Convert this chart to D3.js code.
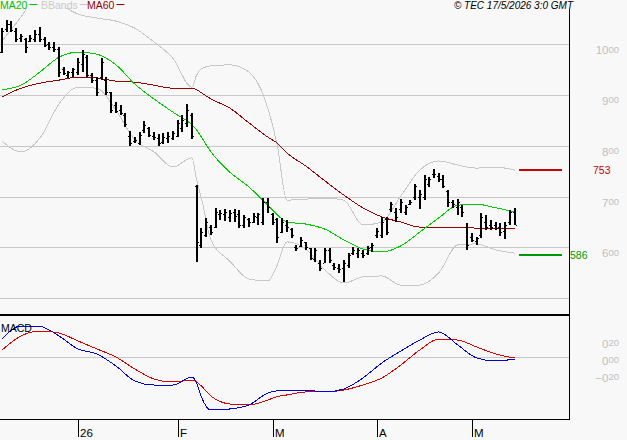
<!DOCTYPE html>
<html>
<head>
<meta charset="utf-8">
<script src="https://cdn.jsdelivr.net/npm/d3@7"></script>
<style>
  body { margin: 0; background: #f8f8f8; }
  svg { display: block; font-family: "Liberation Sans", Arial, sans-serif; }
</style>
</head>
<body>
<svg id="chart" width="627" height="440"></svg>
<script>
// daily bars, index 0 = mid December 2025, index 108 = 15 May 2026
const barOpen = [985,1030,1040,1025,1012,1010,1006,1010,1020,1010,
  1000,995,990,950,940,945,945,960,975,940,
  930,935,930,905,880,870,860,820,810,805,
  830,835,820,815,808,815,815,820,835,845,
  860,720,605,625,640,640,665,665,660,670,
  665,645,655,650,660,650,690,665,655,630,
  645,636,600,603,610,598,578,570,570,595,
  565,560,560,565,590,590,590,590,600,625,
  625,655,675,670,675,670,685,700,700,700,
  725,745,740,735,710,690,680,680,640,620,
  612,625,650,645,645,640,632,650,670];
const barHigh = [1031,1047,1045,1031,1020,1012,1018,1028,1033,1014,
  1004,1004,994,955,947,953,972,988,978,943,
  935,972,935,906,886,880,864,829,817,827,
  849,837,827,823,825,827,829,851,860,882,
  864,723,638,658,644,678,674,676,674,676,
  674,664,658,668,668,697,697,668,658,658,
  654,638,605,621,611,599,599,575,599,599,
  569,567,575,589,601,599,595,603,609,638,
  660,660,689,678,695,683,693,725,713,742,
  739,754,746,742,713,693,695,683,648,628,
  621,668,664,654,650,648,650,674,678];
const barLow = [982,1024,1024,1004,1004,982,1004,1004,1004,994,
  988,984,935,939,933,935,939,945,935,923,
  898,929,900,864,864,860,837,799,805,801,
  825,817,811,799,803,805,811,817,827,837,
  813,571,599,621,624,638,654,652,650,650,
  638,638,640,648,644,644,668,644,609,628,
  630,619,593,601,595,575,571,554,569,569,
  556,550,532,560,585,579,579,585,591,619,
  619,624,670,650,668,664,683,693,676,693,
  719,737,729,717,680,678,664,660,595,611,
  605,619,634,634,634,623,617,644,644];
const barClose = [1025,1040,1028,1010,1015,995,1012,1020,1010,998,
  995,990,945,942,945,950,965,980,940,930,
  905,965,905,870,868,865,842,805,812,822,
  840,822,818,805,818,820,825,845,850,870,
  820,610,630,650,630,670,668,670,668,662,
  645,660,650,662,665,690,680,650,620,650,
  640,625,598,615,600,580,595,560,595,575,
  562,558,570,585,595,595,585,598,605,632,
  650,630,685,660,690,680,690,720,705,735,
  735,745,735,720,690,685,690,670,605,615,
  618,660,640,640,638,630,645,670,645];

// indicator lines, read at these bar indices
const lineIdx = [0,4,8,12,16,20,24,28,32,36,40,41,42,44,48,52,56,58,60,64,68,72,76,80,84,88,92,96,100,104,108];
const ma20 = [910,919,945,974,984,980,959,921,892,866,841,831,817,788,748,719,683,664,650,646,636,615,597,591,603,630,658,683,685,678,670];
const ma60 = [896,913,923,929,935,933,927,925,919,913,913,910,904,892,874,845,817,805,786,760,731,703,678,660,650,640,640,640,638,638,638];
const bbUpper = [1006,1053,1102,1079,1059,1051,1045,1031,1004,972,915,939,951,957,959,945,874,800,693,695,697,693,644,650,701,752,770,762,756,758,752];
const bbLower = [809,788,815,882,915,913,870,811,788,758,776,733,697,615,573,538,534,566,611,597,556,530,542,544,526,526,550,605,607,595,589];
const macdLine = [0.208,0.361,0.355,0.244,0.091,0.032,-0.109,-0.286,-0.333,-0.333,-0.239,-0.31,-0.474,-0.627,-0.615,-0.568,-0.427,-0.40,-0.392,-0.392,-0.415,-0.38,-0.251,-0.074,0.067,0.196,0.291,0.138,-0.015,-0.05,-0.027];
const macdSignal = [0.079,0.244,0.302,0.279,0.185,0.091,-0.004,-0.145,-0.262,-0.298,-0.274,-0.298,-0.345,-0.462,-0.556,-0.568,-0.509,-0.47,-0.45,-0.415,-0.415,-0.392,-0.333,-0.251,-0.098,0.079,0.208,0.196,0.114,0.032,-0.015];

const priceTicks = [1000,900,800,700,600];
const priceGrid = [1000,900,800,700,600,500];
const macdTicks = [0.20,0.00,-0.20];
const monthTicks = [{i:16,label:"26"},{i:37,label:"F"},{i:57,label:"M"},{i:79,label:"A"},{i:99,label:"M"}];
const resistance = 753, support = 586;

const svg = d3.select("#chart");
const right = 569;

const x = d3.scaleLinear().domain([0,108]).range([2, 514.7]);
const yP = d3.scaleLinear().domain([500,1000]).range([298.3, 44]);
const yM = d3.scaleLinear().domain([-0.2,0.2]).range([373.7, 339.7]);

svg.append("defs").append("clipPath").attr("id","pclip")
  .append("rect").attr("x",0).attr("y",8).attr("width",right).attr("height",306);

// grid
svg.append("g").selectAll("line").data(priceGrid).enter().append("line")
  .attr("x1",0).attr("x2",right)
  .attr("y1",d=>Math.round(yP(d))+0.5).attr("y2",d=>Math.round(yP(d))+0.5)
  .attr("stroke","#c8c8c8");
svg.append("line").attr("x1",0).attr("x2",right)
  .attr("y1",Math.round(yM(0))+0.5).attr("y2",Math.round(yM(0))+0.5)
  .attr("stroke","#c8c8c8");

const plot = svg.append("g").attr("clip-path","url(#pclip)");

function priceLine(vals) {
  return d3.line().x((d,k)=>x(lineIdx[k])).y(d=>yP(d)).curve(d3.curveMonotoneX)(vals);
}
plot.append("path").attr("d",priceLine(bbUpper)).attr("fill","none").attr("stroke","#c8c8c8").attr("shape-rendering","crispEdges");
plot.append("path").attr("d",priceLine(bbLower)).attr("fill","none").attr("stroke","#c8c8c8").attr("shape-rendering","crispEdges");
plot.append("path").attr("d",priceLine(ma60)).attr("fill","none").attr("stroke","#990000").attr("shape-rendering","crispEdges");
plot.append("path").attr("d",priceLine(ma20)).attr("fill","none").attr("stroke","#00cc00").attr("shape-rendering","crispEdges");

// OHLC bars
const bars = plot.append("g").attr("fill","#000").attr("shape-rendering","crispEdges");
const idx = d3.range(barHigh.length);
bars.selectAll("rect.hl").data(idx).enter().append("rect")
  .attr("x",i=>Math.round(x(i))-1).attr("width",2)
  .attr("y",i=>Math.round(yP(barHigh[i])))
  .attr("height",i=>Math.max(2,Math.round(yP(barLow[i])-yP(barHigh[i]))));
bars.selectAll("rect.o").data(idx).enter().append("rect")
  .attr("x",i=>Math.round(x(i))-2).attr("width",1)
  .attr("y",i=>Math.round(yP(barOpen[i]))).attr("height",1);
bars.selectAll("rect.c").data(idx).enter().append("rect")
  .attr("x",i=>Math.round(x(i))+1).attr("width",1)
  .attr("y",i=>Math.round(yP(barClose[i]))).attr("height",1);

// resistance / support markers
svg.append("line").attr("x1",519).attr("x2",562)
  .attr("y1",Math.round(yP(resistance))).attr("y2",Math.round(yP(resistance)))
  .attr("stroke","#cc0000").attr("stroke-width",2);
svg.append("line").attr("x1",519).attr("x2",562)
  .attr("y1",Math.round(yP(support))).attr("y2",Math.round(yP(support)))
  .attr("stroke","#009900").attr("stroke-width",2);
svg.append("text").attr("x",593).attr("y",yP(resistance)+4)
  .attr("font-size",10.5).attr("fill","#cc0000").text(resistance);
svg.append("text").attr("x",570).attr("y",yP(support)+4)
  .attr("font-size",10.5).attr("fill","#009900").text(support);

// axis labels, decimals drawn small
function splitLabel(sel, v, big, small) {
  const s = d3.format(".2f")(v).split(".");
  sel.append("tspan").attr("font-size",big).text(s[0]);
  sel.append("tspan").attr("font-size",small).attr("dy",-1.5).text(s[1]);
}
svg.append("g").selectAll("text").data(priceTicks).enter().append("text")
  .attr("x",619).attr("y",d=>yP(d)+10).attr("text-anchor","end").attr("fill","#c0c0c0")
  .each(function(d){ splitLabel(d3.select(this), d/100, 11.5, 9.5); });
svg.append("g").selectAll("text").data(macdTicks).enter().append("text")
  .attr("x",619).attr("y",d=>yM(d)+8).attr("text-anchor","end").attr("fill","#c0c0c0")
  .each(function(d){ splitLabel(d3.select(this), d, 11.5, 9.5); });

// MACD
function macdPath(vals) {
  return d3.line().x((d,k)=>x(lineIdx[k])).y(d=>yM(d)).curve(d3.curveMonotoneX)(vals);
}
svg.append("path").attr("d",macdPath(macdSignal)).attr("fill","none").attr("stroke","#dd0000").attr("shape-rendering","crispEdges");
svg.append("path").attr("d",macdPath(macdLine)).attr("fill","none").attr("stroke","#0000dd").attr("shape-rendering","crispEdges");
svg.append("text").attr("x",1).attr("y",332).attr("font-size",10.5).attr("fill","#000").text("MACD");

// frame
svg.append("line").attr("x1",0).attr("x2",right+1).attr("y1",315).attr("y2",315)
  .attr("stroke","#000").attr("stroke-width",2);
svg.append("line").attr("x1",0).attr("x2",right+1).attr("y1",419.5).attr("y2",419.5)
  .attr("stroke","#000");
svg.append("line").attr("x1",right+0.5).attr("x2",right+0.5).attr("y1",9).attr("y2",420)
  .attr("stroke","#000");

// month ticks
const mt = svg.append("g").selectAll("g").data(monthTicks).enter().append("g")
  .attr("transform",d=>"translate("+Math.round(x(d.i))+",0)");
mt.append("line").attr("x1",0.5).attr("x2",0.5).attr("y1",419).attr("y2",437).attr("stroke","#000");
mt.append("text").attr("x",2).attr("y",437).attr("font-size",11.5).attr("fill","#000").text(d=>d.label);

// legend and header
const legend = [{t:"MA20",c:"#00c000",x:0},{t:"BBands",c:"#c8c8c8",x:41},{t:"MA60",c:"#990000",x:87}];
const lg = svg.append("g").selectAll("g").data(legend).enter().append("g");
lg.append("text").attr("x",d=>d.x).attr("y",9).attr("font-size",10.5).attr("fill",d=>d.c).text(d=>d.t);
lg.append("line").attr("y1",4.5).attr("y2",4.5).attr("stroke",d=>d.c)
  .attr("x1",function(d){ return d.x + this.parentNode.querySelector("text").getComputedTextLength() + 2; })
  .attr("x2",function(d){ return d.x + this.parentNode.querySelector("text").getComputedTextLength() + 10; });
svg.append("text").attr("x",573).attr("y",9).attr("text-anchor","end")
  .attr("font-size",10).attr("font-style","italic").attr("fill","#000")
  .text("\u00a9 TEC 17/5/2026 3:0 GMT");
</script>
</body>
</html>
